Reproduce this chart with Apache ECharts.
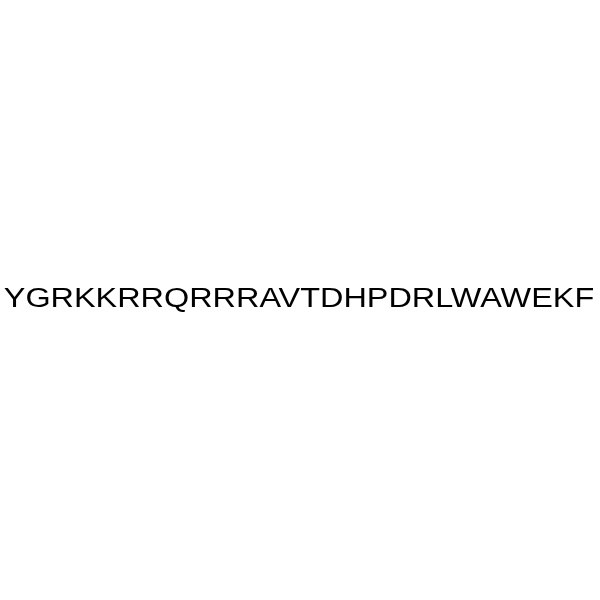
<!DOCTYPE html>
<html>
<head>
<meta charset="utf-8">
<script src="https://cdn.jsdelivr.net/npm/echarts@6/dist/echarts.min.js"></script>
<style>html,body{margin:0;padding:0;background:#fff}#c{width:600px;height:600px}</style>
</head>
<body>
<div id="c"></div>
<script>
var sequence = ["YGRKKRRQRRRAVTDHPDRLWAWEKF"];
var chart = echarts.init(document.getElementById('c'));
chart.setOption({
  backgroundColor: '#ffffff',
  animation: false,
  graphic: [{
    type: 'text',
    x: 299,
    y: 300,
    scaleX: 1.2,
    style: {
      text: sequence[0],
      font: '27px "Liberation Sans", Arial, sans-serif',
      align: 'center',
      verticalAlign: 'middle',
      fill: '#000000'
    }
  }]
});
</script>
</body>
</html>
